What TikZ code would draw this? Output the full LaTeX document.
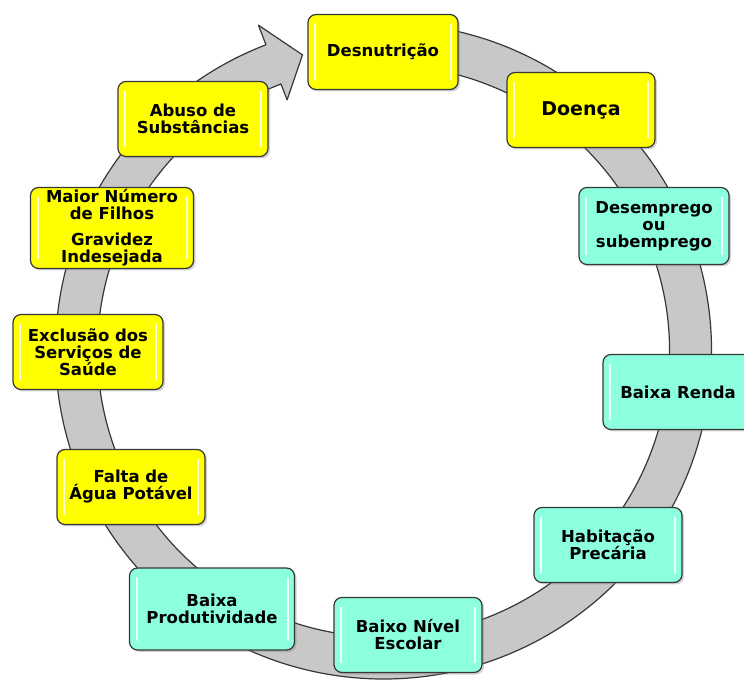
\documentclass[tikz,border=0pt]{standalone}
\usepackage{fontspec}
\setmainfont{DejaVu Sans}
\usetikzlibrary{shadows}
\definecolor{boxyellow}{RGB}{255,255,0}
\definecolor{boxaqua}{RGB}{140,255,222}
\definecolor{ringgray}{RGB}{200,200,200}
\definecolor{edgegray}{RGB}{55,55,55}
\tikzstyle{block} = [rectangle, draw=edgegray, line width=1.2pt, rounded corners=8pt,
    minimum width=150pt, minimum height=75pt, inner sep=2pt, align=center,
    font=\bfseries\fontsize{16.5}{17}\selectfont,
    drop shadow={shadow xshift=2pt, shadow yshift=-2pt, opacity=0.35},
    path picture={
      \draw[white, opacity=0.85, line width=2pt, line cap=round]
        ([xshift=7pt,yshift=-10pt]path picture bounding box.north west) --
        ([xshift=7pt,yshift=10pt]path picture bounding box.south west)
        ([xshift=-7pt,yshift=-10pt]path picture bounding box.north east) --
        ([xshift=-7pt,yshift=10pt]path picture bounding box.south east);}]
\tikzstyle{cause} = [block, fill=boxyellow]
\tikzstyle{effect} = [block, fill=boxaqua]
\tikzstyle{ring} = [fill=ringgray, draw=edgegray, line width=1.2pt, line join=round]

\begin{document}
\begin{tikzpicture}[x=1pt,y=1pt]
  \useasboundingbox (0,0) rectangle (744,680);
  \coordinate (c) at (383.5,329);

  % circular arrow behind the boxes
  \draw[ring] ([shift={(85:328pt)}]c) arc[start angle=85, end angle=-249, radius=328pt]
    -- ([shift={(-249:349pt)}]c) -- ([shift={(-254.7:307pt)}]c)
    -- ([shift={(-249:269pt)}]c) -- ([shift={(-249:286pt)}]c)
    arc[start angle=-249, end angle=85, radius=286pt] -- cycle;

  \node[cause]  (1)  at (383,628) {Desnutrição};
  \node[cause, minimum width=148pt, font=\bfseries\fontsize{19}{20}\selectfont]
                (2)  at (581,570) {Doença};
  \node[effect, minimum height=77pt] (3) at (654,454) {Desemprego\\ou\\subemprego};
  \node[effect] (4)  at (678,288) {Baixa Renda};
  \node[effect, minimum width=148pt] (5) at (608,135) {Habitação\\Precária};
  \node[effect, minimum width=148pt] (6) at (408,45)  {Baixo Nível\\Escolar};
  \node[effect, minimum width=165pt, minimum height=82pt]
                (7)  at (212,71)  {Baixa\\Produtividade};
  \node[cause, minimum width=148pt] (8) at (131,193) {Falta de\\Água Potável};
  \node[cause]  (9)  at (88,328)  {Exclusão dos\\Serviços de\\Saúde};
  \node[cause, minimum width=163pt, minimum height=81pt]
                (10) at (112,452) {Maior Número\\de Filhos\\[9pt]Gravidez\\Indesejada};
  \node[cause]  (11) at (193,561) {Abuso de\\Substâncias};
\end{tikzpicture}
\end{document}
